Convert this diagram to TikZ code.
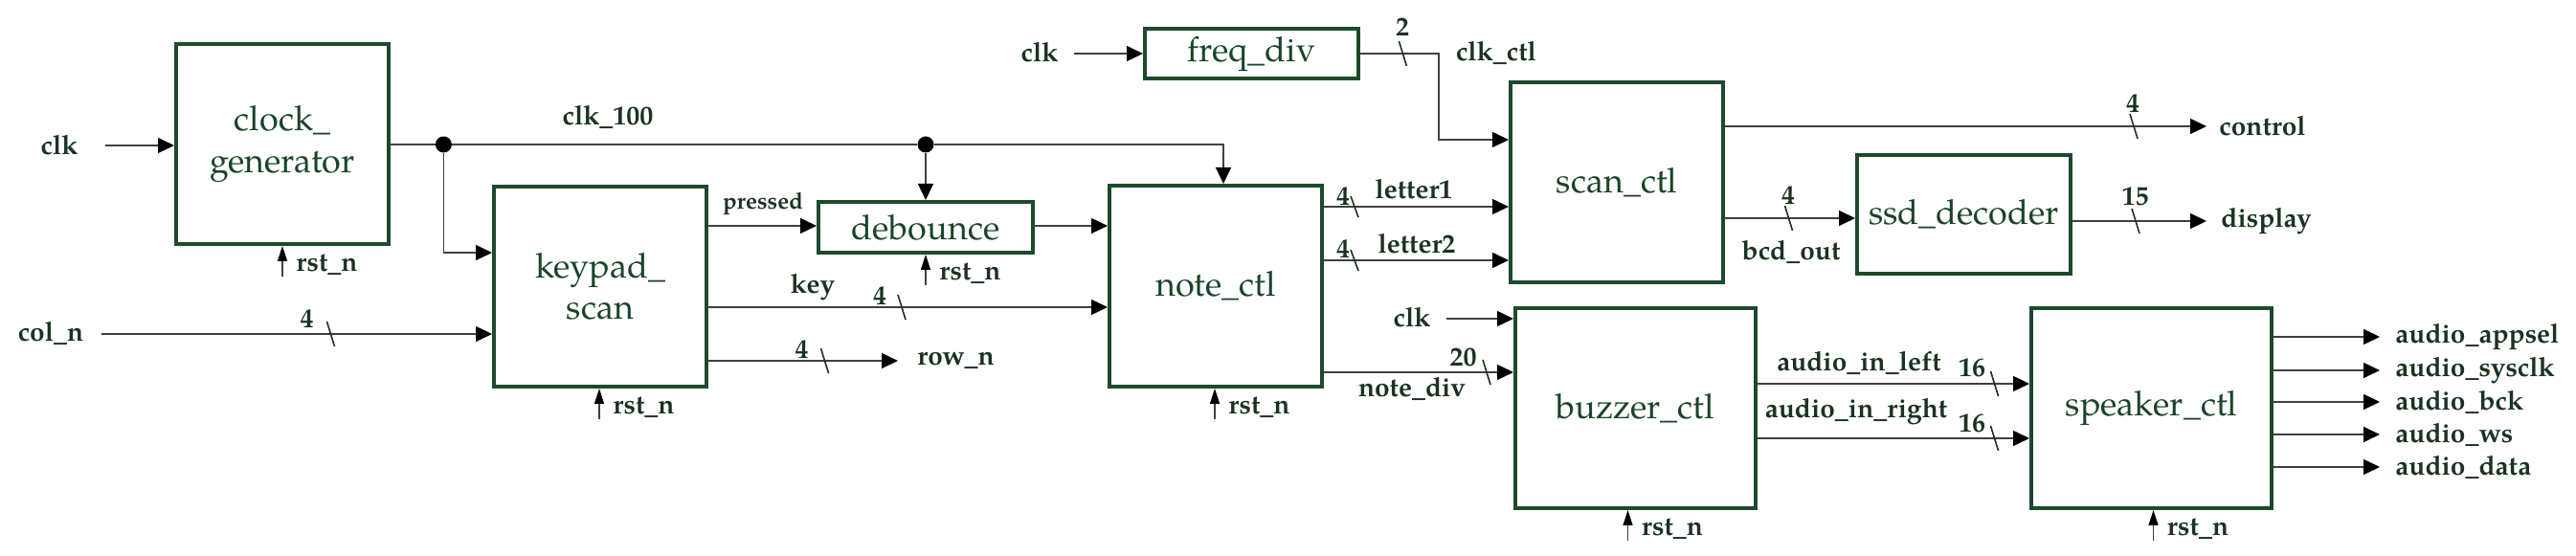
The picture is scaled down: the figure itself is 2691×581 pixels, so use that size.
\documentclass[tikz,border=0pt]{standalone}
\usepackage{fontspec}
\setmainfont{TeX Gyre Pagella}
\usetikzlibrary{arrows.meta}
\definecolor{bord}{HTML}{1D4A2C}
\definecolor{btxt}{HTML}{1A4428}
\definecolor{ltxt}{HTML}{1A3320}
\definecolor{wirec}{HTML}{404040}
\begin{document}
\begin{tikzpicture}[x=0.5pt,y=-0.5pt,
  blk/.style={draw=bord,line width=2pt,text=btxt,font=\fontsize{18}{21.6}\selectfont,align=center,inner sep=0pt},
  lbl/.style={text=ltxt,font=\fontsize{14}{16}\selectfont\bfseries,inner sep=0pt},
  sml/.style={text=ltxt,font=\fontsize{12}{14}\selectfont\bfseries,inner sep=0pt},
  wire/.style={draw=wirec,line width=0.7pt},
  sig/.style={wire,-{Triangle[length=8.5pt,width=8pt,black]}},
  rst/.style={wire,-{Triangle[length=8pt,width=5pt,black]}},
  busmark/.style={draw=ltxt,line width=0.8pt},
  junc/.style={circle,fill=black,inner sep=0pt,minimum size=8.5pt}
]
\useasboundingbox (0,0) rectangle (2691,581);

% blocks
\node[blk,minimum width=111pt,minimum height=104.5pt] (cg) at (295,150.5) {clock\_\\generator};
\node[blk,minimum width=111pt,minimum height=104.5pt] (kp) at (627,299.5) {keypad\_\\scan};
\node[blk,minimum width=112pt,minimum height=26.5pt] (db) at (967,237.5) {debounce};
\node[blk,minimum width=111pt,minimum height=105pt] (nc) at (1270,299) {note\_ctl};
\node[blk,minimum width=111.5pt,minimum height=26pt] (fd) at (1307.5,56) {freq\_div};
\node[blk,minimum width=111pt,minimum height=104.5pt] (sc) at (1689,190.5) {scan\_ctl};
\node[blk,minimum width=111.5pt,minimum height=62pt] (ssd) at (2051.5,224) {ssd\_decoder};
\node[blk,minimum width=125.5pt,minimum height=104.5pt] (bz) at (1708.5,426.5) {buzzer\_ctl};
\node[blk,minimum width=125.5pt,minimum height=104.5pt] (sp) at (2247.5,426.5) {speaker\_ctl};

% reset inputs
\foreach \b/\dx in {cg/0,kp/-1,db/0,nc/-1,bz/-8,sp/2}{
  \coordinate (\b-r) at ([xshift={\dx*0.5pt},yshift=-16pt]\b.south);
  \draw[rst] (\b-r) -- (\b-r |- \b.south);
  \node[lbl,anchor=west] (\b-rl) at ([xshift={\dx*0.5pt+7pt},yshift=-10pt]\b.south) {rst\_n};
}

% clk -> clock_generator
\coordinate (clkA) at (110,152);
\node[lbl] (clkAl) at (62,152) {clk};
\draw[sig] (clkA) -- (clkA -| cg.west);

% clk_100 net
\node[junc] (j1) at (463.4,151) {};
\node[junc] (j2) at (967,151) {};
\coordinate (c100) at (1278,151);
\node[lbl] (c100l) at (635,122) {clk\_100};
\draw[wire] (j1 -| cg.east) -- (j1) -- (j2);
\draw[sig] (j2) -- (c100) -- (c100 |- nc.north);
\draw[sig] (j2) -- (db.north);
\draw[sig] (j1) |- (kp.west |- 0,264);

% col_n
\coordinate (coln) at (106,349);
\node[lbl] (colnl) at (53,348) {col\_n};
\draw[sig] (coln) -- (coln -| kp.west);
\draw[busmark] (345.5,349) ++(-4,-13) -- ++(8,26);
\node[lbl] (colnw) at (320.5,333) {4};

% pressed
\draw[sig] (kp.east |- 0,236) -- (db.west |- 0,236);
\node[sml] (prl) at (797,213) {pressed};
\draw[sig] (db.east |- 0,236) -- (nc.west |- 0,236);

% key
\draw[sig] (kp.east |- 0,321) -- (nc.west |- 0,321);
\node[lbl] (keyl) at (849,300) {key};
\draw[busmark] (942,321) ++(-4,-13) -- ++(8,26);
\node[lbl] (keyw) at (919,309) {4};

% row_n
\coordinate (rowE) at (938,377);
\draw[sig] (kp.east |- rowE) -- (rowE);
\node[lbl,anchor=west] (rowl) at (958,377) {row\_n};
\draw[busmark] (861.5,377) ++(-4,-13) -- ++(8,26);
\node[lbl] (roww) at (837.5,365) {4};

% freq_div
\coordinate (clkB) at (1122,56);
\node[lbl] (clkBl) at (1086,55) {clk};
\draw[sig] (clkB) -- (clkB -| fd.west);
\draw[sig] (fd.east) -- ++(82,0) |- (sc.west |- 0,146);
\draw[busmark] (1465.4,56) ++(-4,-13) -- ++(8,26);
\node[lbl] (fdw) at (1465,28) {2};
\node[lbl] (clkctl) at (1563,55) {clk\_ctl};

% letters
\draw[sig] (nc.east |- 0,216) -- (sc.west |- 0,216);
\draw[busmark] (1415,216) ++(-4,-11) -- ++(8,22);
\node[lbl] (l1w) at (1403,205) {4};
\node[lbl] (l1l) at (1477,198) {letter1};
\draw[sig] (nc.east |- 0,272) -- (sc.west |- 0,272);
\draw[busmark] (1415,272) ++(-4,-11) -- ++(8,22);
\node[lbl] (l2w) at (1403,260) {4};
\node[lbl] (l2l) at (1480,255) {letter2};

% control
\coordinate (ctlE) at (2305,132);
\draw[sig] (sc.east |- ctlE) -- (ctlE);
\node[lbl,anchor=west] (ctll) at (2318,132) {control};
\draw[busmark] (2229,132) ++(-4,-13) -- ++(8,26);
\node[lbl] (ctlw) at (2228,108) {4};

% bcd_out
\draw[sig] (sc.east |- 0,228) -- (ssd.west |- 0,228);
\draw[busmark] (1868.5,228) ++(-4,-13) -- ++(8,26);
\node[lbl] (bcdw) at (1868,204) {4};
\node[lbl] (bcdl) at (1871,263) {bcd\_out};

% display
\coordinate (dispE) at (2305,231);
\draw[sig] (ssd.east |- dispE) -- (dispE);
\node[lbl,anchor=west] (displ) at (2320,231) {display};
\draw[busmark] (2231,231) ++(-4,-13) -- ++(8,26);
\node[lbl] (dispw) at (2230.5,205) {15};

% buzzer inputs
\coordinate (clkC) at (1511,333);
\node[lbl] (clkCl) at (1475,332) {clk};
\draw[sig] (clkC) -- (clkC -| bz.west);
\draw[sig] (nc.east |- 0,389) -- (bz.west |- 0,389);
\draw[busmark] (1553,389) ++(-4,-13) -- ++(8,26);
\node[lbl] (ndw) at (1528.6,374) {20};
\node[lbl] (ndl) at (1475,406) {note\_div};

% audio in
\draw[sig] (bz.east |- 0,401) -- (sp.west |- 0,401);
\node[lbl] (ail) at (1942,379) {audio\_in\_left};
\draw[busmark] (2083.5,401) ++(-4,-13) -- ++(8,26);
\node[lbl] (ailw) at (2060,384) {16};
\draw[sig] (bz.east |- 0,458) -- (sp.west |- 0,458);
\node[lbl] (air) at (1939,430) {audio\_in\_right};
\draw[busmark] (2083.5,458) ++(-4,-13) -- ++(8,26);
\node[lbl] (airw) at (2060,442) {16};

% speaker outputs
\foreach \yy/\nm/\t in {352/a/audio\_appsel,387/b/audio\_sysclk,420/c/audio\_bck,454/d/audio\_ws,488/e/audio\_data}{
  \coordinate (o\nm) at (2486,\yy);
  \draw[sig] (sp.east |- o\nm) -- (o\nm);
  \node[lbl,anchor=west] (o\nm l) at (2502,\yy) {\t};
}
\end{tikzpicture}
\end{document}
